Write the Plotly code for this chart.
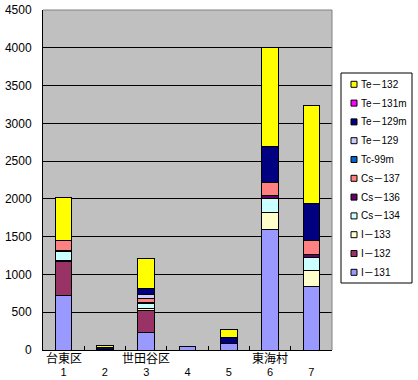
import plotly.graph_objects as go

# ---- data ----
categories = ["1", "2", "3", "4", "5", "6", "7"]
site_labels = ["台東区", "", "世田谷区", "", "", "東海村", ""]
y_tick_values = [0, 500, 1000, 1500, 2000, 2500, 3000, 3500, 4000, 4500]

series_names = ["I－131", "I－132", "I－133", "Cs－134", "Cs－136", "Cs－137",
                "Tc-99m", "Te－129", "Te－129m", "Te－131m", "Te－132"]
series_colors = ["#9999FF", "#993366", "#FFFFCC", "#CCFFFF", "#660066", "#FF8080",
                 "#0066CC", "#CCCCFF", "#000080", "#FF00FF", "#FFFF00"]

i131 = [720, 8, 234, 40, 88, 1600, 843]
i132 = [450, 5, 290, 0, 0, 0, 0]
i133 = [18, 0, 25, 0, 0, 215, 212]
cs134 = [118, 0, 62, 0, 0, 185, 167]
cs136 = [13, 0, 18, 0, 0, 40, 48]
cs137 = [133, 0, 53, 0, 0, 180, 182]
tc99m = [0, 0, 0, 0, 0, 0, 0]
te129 = [0, 0, 53, 0, 0, 0, 0]
te129m = [0, 20, 79, 0, 71, 477, 493]
te131m = [0, 0, 0, 0, 0, 0, 0]
te132 = [568, 30, 397, 0, 106, 1305, 1293]

series_values = [i131, i132, i133, cs134, cs136, cs137, tc99m, te129, te129m, te131m, te132]

# ---- layout geometry (pixels) ----
W, H = 418, 380
ML, MR, MT, MB = 43, 86, 10, 30
PW, PH = W - ML - MR, H - MT - MB

def px_x(px):
    return (px - ML) / PW

def px_y(py):
    return (H - MB - py) / PH

FONT = "Liberation Sans, Arial, Noto Sans CJK JP, sans-serif"
CJK = "Noto Sans CJK JP, sans-serif"

fig = go.Figure()
for name, color, vals in zip(series_names, series_colors, series_values):
    fig.add_trace(go.Bar(
        x=categories,
        y=[v if v else None for v in vals],
        name=name,
        marker=dict(color=color, line=dict(color="black", width=1)),
        showlegend=False,
        hoverinfo="x+y+name",
    ))

shapes = []
annotations = []

# top / right frame in gray
shapes.append(dict(type="line", xref="paper", yref="paper", x0=0, x1=1, y0=1, y1=1,
                   line=dict(color="#808080", width=1), layer="above"))
shapes.append(dict(type="line", xref="paper", yref="paper", x0=1, x1=1, y0=0, y1=1,
                   line=dict(color="#808080", width=1), layer="above"))

# site labels under the axis (category axis positions are indices)
for idx, lab in enumerate(site_labels):
    if lab:
        annotations.append(dict(x=idx, xref="x", y=0, yref="paper", yshift=-7,
                                text=lab, showarrow=False, xanchor="center",
                                yanchor="middle", font=dict(family=CJK, size=12, color="black")))

# manual legend
shapes.append(dict(type="rect", xref="paper", yref="paper",
                   x0=px_x(341), x1=px_x(412), y0=px_y(73), y1=px_y(283),
                   line=dict(color="black", width=1), fillcolor="white", layer="above"))
for i, (name, color) in enumerate(zip(series_names[::-1], series_colors[::-1])):
    cy = 84.3 + i * 18.8
    shapes.append(dict(type="rect", xref="paper", yref="paper",
                       x0=px_x(351), x1=px_x(357), y0=px_y(cy + 3), y1=px_y(cy - 3),
                       line=dict(color="black", width=1), fillcolor=color, layer="above"))
    annotations.append(dict(x=px_x(359), xref="paper", y=px_y(cy), yref="paper",
                            text=name, showarrow=False, xanchor="left", yanchor="middle",
                            font=dict(family=FONT, size=10, color="black")))

fig.update_layout(
    width=W, height=H,
    margin=dict(l=ML, r=MR, t=MT, b=MB, autoexpand=False),
    paper_bgcolor="white",
    plot_bgcolor="#C0C0C0",
    barmode="stack",
    bargap=0.6,
    showlegend=False,
    font=dict(family=FONT, size=12, color="black"),
    shapes=shapes,
    annotations=annotations,
    xaxis=dict(
        type="category",
        categoryorder="array", categoryarray=categories,
        showline=True, linecolor="black", linewidth=1,
        showgrid=False,
        ticks="inside", ticklen=4, tickcolor="black", tickson="boundaries",
        ticklabelstandoff=12,
        tickfont=dict(family=FONT, size=11, color="black"),
    ),
    yaxis=dict(
        range=[0, 4500],
        tickvals=y_tick_values,
        showline=True, linecolor="black", linewidth=1,
        showgrid=True, gridcolor="black", gridwidth=1,
        zeroline=False,
        ticks="", ticklabelstandoff=8,
        tickfont=dict(family=FONT, size=12, color="black"),
    ),
)

fig.write_html("out.html", config={"displayModeBar": False},
               post_script="document.body.style.margin='0px';")
